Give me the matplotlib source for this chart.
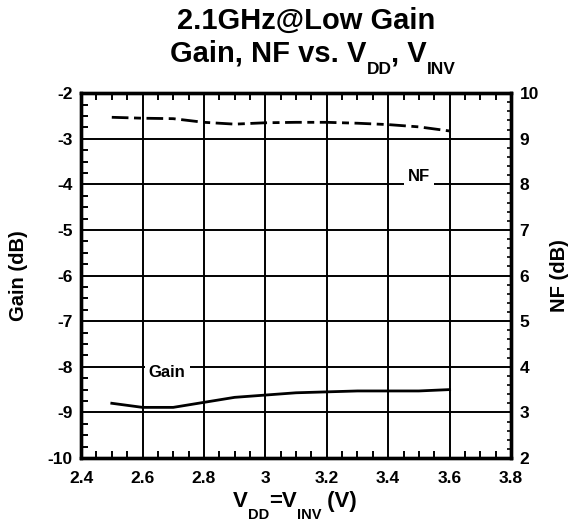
import numpy as np
import matplotlib.pyplot as plt
from matplotlib.ticker import MultipleLocator

# Values
vdd = [2.5, 2.6, 2.7, 2.8, 2.9, 3.0, 3.1, 3.2, 3.3, 3.4, 3.5, 3.6]
gain = [-8.80, -8.89, -8.89, -8.78, -8.67, -8.62, -8.57, -8.55, -8.53, -8.53, -8.53, -8.50]
nf = [9.47, 9.45, 9.44, 9.36, 9.32, 9.35, 9.36, 9.36, 9.34, 9.31, 9.26, 9.17]

x_ticks = [2.4, 2.6, 2.8, 3.0, 3.2, 3.4, 3.6, 3.8]
x_tick_labels = ['2.4', '2.6', '2.8', '3', '3.2', '3.4', '3.6', '3.8']
gain_ticks = [-2, -3, -4, -5, -6, -7, -8, -9, -10]
nf_ticks = [2, 3, 4, 5, 6, 7, 8, 9, 10]

plt.rcParams['font.family'] = ['Liberation Sans', 'DejaVu Sans']
plt.rcParams['font.weight'] = 'bold'
plt.rcParams['axes.unicode_minus'] = False
plt.rcParams['lines.scale_dashes'] = False

W, H = 571, 522
fig = plt.figure(figsize=(W / 100, H / 100), dpi=100)
ax = fig.add_axes([0.142, 0.1226, 0.753, 0.699])
ax2 = ax.twinx()


def draw_pieces(cx, base, pieces):
    """Write text pieces side by side (pixel coords), centred on cx.
    pieces: (text, fontsize, baseline drop in px)"""
    renderer = fig.canvas.get_renderer()
    texts = []
    x = 0
    for s, size, drop in pieces:
        t = fig.text(x, base - drop, s, fontsize=size, fontweight='bold',
                     transform=None, ha='left', va='baseline')
        w = t.get_window_extent(renderer).width
        texts.append((t, x))
        x += w
    start = cx - x / 2
    for t, off in texts:
        t.set_x(start + off)


ax.set_xlim(2.4, 3.8)
ax.set_ylim(-10, -2)
ax2.set_ylim(2, 10)

# grid lines
for xv in x_ticks[1:-1]:
    ax.axvline(xv, color='black', lw=1.4, zorder=1)
for yv in gain_ticks[1:-1]:
    ax.axhline(yv, color='black', lw=1.4, zorder=1)

ax.plot(vdd, gain, color='black', lw=2.0, zorder=3)
ax2.plot(vdd, nf, color='black', lw=2.0, dashes=[12, 4, 5, 4], zorder=3)

ax.text(2.68, -8.12, 'Gain', ha='center', va='center', fontsize=12, fontweight='bold',
        bbox=dict(facecolor='white', edgecolor='none', pad=3), zorder=4)
ax.text(3.5, -3.83, 'NF', ha='center', va='center', fontsize=12, fontweight='bold',
        bbox=dict(facecolor='white', edgecolor='none', pad=3), zorder=4)

ax.set_xticks(x_ticks)
ax.set_xticklabels(x_tick_labels, fontweight='bold')
ax.set_yticks(gain_ticks)
ax.set_yticklabels([str(v) for v in gain_ticks], fontweight='bold')
ax2.set_yticks(nf_ticks)
ax2.set_yticklabels([str(v) for v in nf_ticks], fontweight='bold')
ax.xaxis.set_minor_locator(MultipleLocator(0.05))
ax.yaxis.set_minor_locator(MultipleLocator(0.25))
ax2.yaxis.set_minor_locator(MultipleLocator(0.2))

for a in (ax, ax2):
    a.tick_params(which='both', direction='in', labelsize=12.5, width=1.4, pad=6)
    a.tick_params(which='major', length=0)
    a.tick_params(which='minor', length=5)
    for s in a.spines.values():
        s.set_linewidth(2.4)
ax2.tick_params(which='minor', length=3, width=1.2)
ax.tick_params(axis='x', which='minor', top=True)
ax.tick_params(axis='x', pad=9)

ax.set_ylabel('Gain (dB)', fontsize=14.5, fontweight='bold', labelpad=14)
ax2.set_ylabel('NF (dB)', fontsize=14.5, fontweight='bold', labelpad=8)

# x label with deep subscripts
draw_pieces(295, 15, [('V', 16, 0), ('DD', 10.5, 12), ('=V', 16, 0), ('INV', 10.5, 12), (' (V)', 16, 0)])

# title
fig.text(306, H - 29, '2.1GHz@Low Gain', transform=None, ha='center', va='baseline',
         fontsize=21, fontweight='bold')
draw_pieces(313, H - 62, [('Gain, NF vs. V', 21, 0), ('DD', 12.5, 12), (', V', 21, 0), ('INV', 12.5, 12)])

fig.savefig('out.png', dpi=100)
